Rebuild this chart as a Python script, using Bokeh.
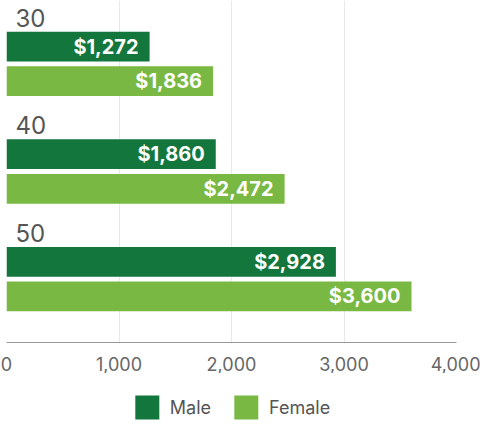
from bokeh.plotting import figure
from bokeh.layouts import column
from bokeh.models import (ColumnDataSource, FactorRange, Range1d, FixedTicker,
                          NumeralTickFormatter, Legend, LegendItem, Grid)
from bokeh.core.properties import value
from bokeh.embed import file_html
from bokeh.resources import INLINE

ages = ["30", "40", "50"]
series = ["Male", "Female"]
male = [1272, 1860, 2928]
female = [1836, 2472, 3600]
x_ticks = [0, 1000, 2000, 3000, 4000]
colors = {"Male": "#13763c", "Female": "#79b943"}

# bottom-to-top order so that the first age appears on top
factors = [(a, s) for a in reversed(ages) for s in reversed(series)]

p = figure(width=480, height=373, output_backend="svg", toolbar_location=None,
           y_range=FactorRange(*factors, factor_padding=0.0, group_padding=1.111,
                               range_padding=0.834, range_padding_units="absolute"),
           x_range=Range1d(0, 4000),
           min_border_left=6, min_border_right=24, min_border_top=0, min_border_bottom=30)

sources = {}
for s, vals in (("Male", male), ("Female", female)):
    src = ColumnDataSource(dict(y=[(a, s) for a in ages], x=vals,
                                lab=[f"${v:,}" for v in vals]))
    sources[s] = src
    p.hbar(y="y", right="x", left=0, height=0.86, source=src,
           fill_color=colors[s], line_color=None)
    p.text(x="x", y="y", text="lab", source=src, x_offset=-11,
           text_align="right", text_baseline="middle", text_color="white",
           text_font=value("Inter"), text_font_style="bold",
           text_font_size="20px")

# age labels
asrc = ColumnDataSource(dict(x=[0] * len(ages), y=[(a, "Male") for a in ages], t=ages))
p.text(x="x", y="y", text="t", source=asrc, x_offset=9, y_offset=-29,
       text_align="left", text_baseline="alphabetic", text_color="#555555",
       text_font=value("Inter"), text_font_size="24px")

p.yaxis.visible = False
p.ygrid.visible = False
p.xgrid.ticker = FixedTicker(ticks=x_ticks)
p.xgrid.grid_line_color = "#e8e8e8"
p.add_layout(Grid(dimension=0, ticker=FixedTicker(ticks=x_ticks[:1]),
                  grid_line_color="#777777"))

ax = p.xaxis[0]
ax.ticker = FixedTicker(ticks=x_ticks)
ax.formatter = NumeralTickFormatter(format="0,0")
ax.major_tick_line_color = None
ax.minor_tick_line_color = None
ax.axis_line_color = "#999999"
ax.major_label_text_font = "Inter"
ax.major_label_text_font_size = "18px"
ax.major_label_text_color = "#666666"
ax.major_label_standoff = 8
p.outline_line_color = None

# legend strip below the chart (zero-height proxy bars carry the legend swatches)
lg = figure(width=480, height=50, output_backend="svg", toolbar_location=None,
            x_range=Range1d(0, 4000), y_range=FactorRange(*factors),
            min_border_left=6, min_border_right=24, min_border_top=0, min_border_bottom=0)
lg.axis.visible = False
lg.grid.visible = False
lg.outline_line_color = None
items = []
for s in series:
    r = lg.hbar(y="y", right="x", left=0, height=0, source=sources[s],
                fill_color=colors[s], line_color=None)
    items.append(LegendItem(label=s, renderers=[r]))
legend = Legend(items=items, orientation="horizontal", location="bottom_center",
                glyph_width=30, glyph_height=30, label_standoff=8, spacing=20,
                label_text_font="Inter", label_text_font_size="18px",
                label_text_color="#555555", border_line_color=None,
                background_fill_alpha=0, padding=0, margin=1)
lg.add_layout(legend)

layout = column(p, lg, spacing=0)
open("out.html", "w").write(file_html(layout, INLINE))
